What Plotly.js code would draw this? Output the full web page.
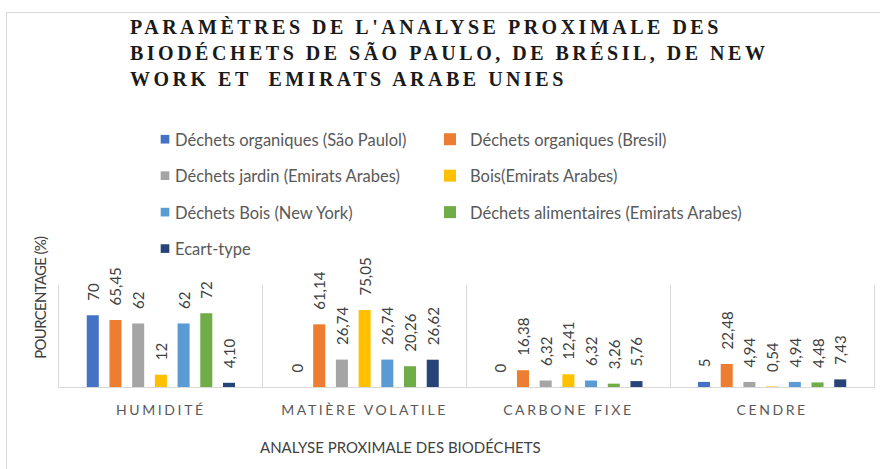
<!DOCTYPE html>
<html>
<head>
<meta charset="utf-8">
<script src="https://cdn.plot.ly/plotly-3.0.1.min.js"></script>
<style>
  html, body { margin: 0; padding: 0; background: #fff; }
  #wrap { position: relative; width: 880px; height: 469px; }
  #frame { position: absolute; left: 6px; top: 12px; width: 900px; height: 480px; border: 1px solid #d9d9d9; box-sizing: border-box; pointer-events: none; z-index: 2; }
  #chart { position: absolute; left: 0; top: 0; width: 880px; height: 469px; }
  .gtitle { letter-spacing: 3.5px; }
  .xtick text { letter-spacing: 2.6px; }
  .legend .legendpoints path { transform: translate(30px, 0px) scale(0.72); }
  .annotation[data-index="1"] text { letter-spacing: -0.7px; }
</style>
</head>
<body>
<div id="wrap">
  <div id="chart"></div>
  <div id="frame"></div>
</div>
<script>
const categories = ['HUMIDITÉ', 'MATIÈRE VOLATILE', 'CARBONE FIXE', 'CENDRE'];

const seriesNames = [
  'Déchets organiques (São Paulol)',
  'Déchets organiques (Bresil)',
  'Déchets jardin (Emirats Arabes)',
  'Bois(Emirats Arabes)',
  'Déchets Bois (New York)',
  'Déchets alimentaires (Emirats Arabes)',
  'Ecart-type'
];

const saoPaulo   = [70, 0, 0, 5];
const bresil     = [65.45, 61.14, 16.38, 22.48];
const jardin     = [62, 26.74, 6.32, 4.94];
const boisEA     = [12, 75.05, 12.41, 0.54];
const boisNY     = [62, 26.74, 6.32, 4.94];
const aliment    = [72, 20.26, 3.26, 4.48];
const ecartType  = [4.10, 26.62, 5.76, 7.43];
const ecartLabels = ['4,10', '26,62', '5,76', '7,43'];

const seriesValues = [saoPaulo, bresil, jardin, boisEA, boisNY, aliment, ecartType];
const colors = ['#4472C4', '#ED7D31', '#A5A5A5', '#FFC000', '#5B9BD5', '#70AD47', '#264478'];

const fmt = v => String(v).replace('.', ',');
const PAD = '\u00A0\u00A0\u00A0';

const traces = seriesValues.map((vals, i) => ({
  type: 'bar',
  name: seriesNames[i],
  x: categories,
  y: vals,
  text: (i === 6 ? ecartLabels : vals.map(fmt)).map(t => PAD + t),
  textposition: 'outside',
  textangle: -90,
  constraintext: 'none',
  cliponaxis: false,
  textfont: { family: 'Lato, sans-serif', size: 15, color: '#404040' },
  marker: { color: colors[i] },
  legend: (i % 2 === 0) ? 'legend' : 'legend2',
  legendgroup: 'g' + i,
  hoverinfo: 'skip'
}));

const legendCommon = {
  xref: 'container', yref: 'container',
  xanchor: 'left', yanchor: 'top',
  orientation: 'v',
  traceorder: 'grouped',
  tracegroupgap: 12,
  bgcolor: 'rgba(0,0,0,0)',
  font: { family: 'Lato, sans-serif', size: 16.5, color: '#595959' }
};

const layout = {
  width: 880, height: 469,
  margin: { l: 59, r: 6, t: 285, b: 82, autoexpand: false },
  paper_bgcolor: '#ffffff',
  plot_bgcolor: '#ffffff',
  title: {
    text: "PARAMÈTRES DE L'ANALYSE PROXIMALE DES<br>BIODÉCHETS DE SÃO PAULO, DE BRÉSIL, DE NEW<br>WORK ET  EMIRATS ARABE UNIES",
    font: { family: '"Liberation Serif", "Times New Roman", serif', size: 20, color: '#1a1a1a', weight: 'bold' },
    xref: 'container', yref: 'container',
    x: 130 / 880, xanchor: 'left',
    y: 1 - 34 / 469, yanchor: 'top'
  },
  barmode: 'group',
  bargap: 0.22,
  bargroupgap: 0.47,
  showlegend: true,
  legend: Object.assign({}, legendCommon, { x: 135 / 880, y: 1 - 122 / 469 }),
  legend2: Object.assign({}, legendCommon, { x: 430 / 880, y: 1 - 122 / 469 }),
  xaxis: {
    type: 'category',
    range: [-0.5, 3.5],
    tickson: 'boundaries',
    showgrid: true,
    gridcolor: '#d9d9d9',
    gridwidth: 1,
    showline: true,
    linecolor: '#d9d9d9',
    linewidth: 1,
    ticks: '',
    ticklen: 0,
    ticklabelstandoff: 10,
    tickfont: { family: 'Lato, sans-serif', size: 14, color: '#595959' },
    fixedrange: true
  },
  yaxis: {
    range: [0, 99.5],
    showgrid: false,
    zeroline: false,
    showticklabels: false,
    ticks: '',
    showline: true,
    mirror: true,
    linecolor: '#d9d9d9',
    linewidth: 1,
    fixedrange: true
  },
  annotations: [
    {
      text: 'ANALYSE PROXIMALE DES BIODÉCHETS',
      xref: 'paper', yref: 'paper',
      x: (400 - 59) / 815, y: 0, yshift: -60,
      xanchor: 'center', yanchor: 'middle',
      showarrow: false,
      font: { family: 'Lato, sans-serif', size: 15, color: '#404040' }
    },
    {
      text: 'POURCENTAGE (%)',
      xref: 'paper', yref: 'paper',
      x: 0, xshift: -19, y: 1, yshift: -13,
      yanchor: 'middle', xanchor: 'center',
      textangle: -90,
      showarrow: false,
      font: { family: 'Lato, sans-serif', size: 15, color: '#404040' }
    }
  ]
};

Plotly.newPlot('chart', traces, layout, { displayModeBar: false, staticPlot: true });
</script>
</body>
</html>
